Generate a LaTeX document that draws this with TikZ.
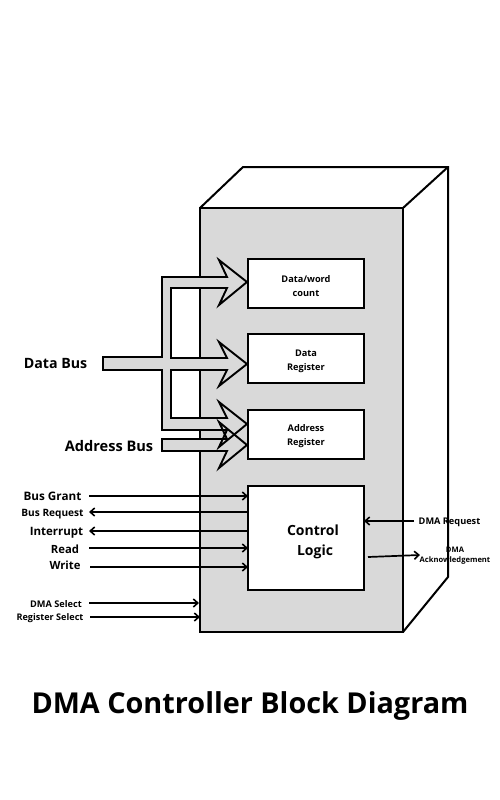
\documentclass[tikz,border=0pt]{standalone}
\usepackage{fontspec}
\setmainfont{Open Sans}
\usetikzlibrary{arrows.meta}
\definecolor{panel}{gray}{0.85}
\newcommand{\lowered}[2]{\raisebox{-#1pt}[0.8em][0.2em]{#2}}
\tikzset{
  x=1pt,y=-1pt,
  frame/.style={draw,line width=2pt,line join=miter},
  bus/.style={draw,line width=1.9pt,line join=miter,fill=panel},
  blockbox/.style={draw,line width=2pt,fill=white,anchor=north west,inner sep=0pt,outer sep=0pt,align=center,font=\bfseries\fontsize{9.2}{13.5}\selectfont},
  sig/.style={line width=1.7pt,-{Straight Barb[length=4.5pt,width=8pt,line width=1.6pt]}},
  lab/.style={inner sep=0pt,font=\bfseries\fontsize{10.1}{12}\selectfont},
  midlab/.style={inner sep=0pt,font=\bfseries\fontsize{11.3}{13}\selectfont},
  smalllab/.style={inner sep=0pt,font=\bfseries\fontsize{9.1}{11}\selectfont},
  biglab/.style={inner sep=0pt,font=\bfseries\fontsize{14.4}{16}\selectfont},
}
\begin{document}
\begin{tikzpicture}
\useasboundingbox (0,0) rectangle (500,800);
% cabinet
\draw[frame,fill=panel] (200,208) rectangle (403,632);
\draw[frame] (200,208) -- (243,167) -- (448,167) -- (448,577) -- (403,632);
\draw[frame] (403,208) -- (448,167);
% blocks
\node[blockbox,minimum width=116pt,minimum height=49pt] (count) at (248,259) {\lowered{3}{Data/word}\\\lowered{3}{count}};
\node[blockbox,minimum width=116pt,minimum height=49pt] (datareg) at (248,334) {\lowered{1.5}{Data}\\\lowered{2}{Register}};
\node[blockbox,minimum width=116pt,minimum height=49pt] (addrreg) at (248,410) {\lowered{1}{Address}\\\lowered{1}{Register}};
\node[blockbox,minimum width=116pt,minimum height=104pt] (ctrl) at (248,486) {};
\node[inner sep=0pt,align=center,font=\bfseries\fontsize{14}{20}\selectfont] (ctrltext) at (313,541.5) {Control\\\hspace*{4pt}Logic};
% buses
\fill[panel] (162,439) -- (227,439) -- (219,422) -- (247,445) -- (219,468) -- (227,451) -- (162,451) -- cycle;
\path[bus] (103,357) -- (162,357) -- (162,277) -- (227,277) -- (219,260) -- (247,282) -- (219,305) -- (227,288) -- (171,288) -- (171,358) -- (227,358) -- (219,342) -- (247,364) -- (219,386) -- (227,370) -- (171,370) -- (171,418) -- (227,418) -- (219,402) -- (247,424) -- (219,447) -- (227,430) -- (162,430) -- (162,370) -- (103,370) -- cycle;
\draw[bus,fill=none] (162,439) -- (227,439) -- (219,422) -- (247,445) -- (219,468) -- (227,451) -- (162,451) -- cycle;
% bus labels
\node[biglab,font=\bfseries\fontsize{14.2}{16}\selectfont] (databus) at (55.5,363) {Data Bus};
\node[biglab,font=\bfseries\fontsize{14.6}{16}\selectfont] (addrbus) at (109,446) {Address Bus};
% signal labels
\node[midlab,font=\bfseries\fontsize{11.7}{13}\selectfont] (grant) at (52.5,496) {Bus Grant};
\node[lab] (req) at (52.5,514) {Bus Request};
\node[midlab,font=\bfseries\fontsize{11.5}{13}\selectfont] (intr) at (56.5,532.5) {Interrupt};
\node[midlab] (read) at (65,549) {Read};
\node[midlab] (write) at (65,565) {Write};
\node[smalllab,font=\bfseries\fontsize{9.2}{11}\selectfont] (dmasel) at (56,604) {DMA Select};
\node[smalllab] (regsel) at (50,618) {Register Select};
\node[smalllab,font=\bfseries\fontsize{9.2}{11}\selectfont] (dmareq) at (449.5,522) {DMA Request};
\node[inner sep=0pt,align=center,font=\bfseries\fontsize{7.6}{10.3}\selectfont] (dmaack) at (455,555.5) {DMA\\Acknowledgement};
% signal ends
\coordinate (g) at (89,496);
\coordinate (r) at (89,512);
\coordinate (i) at (89,531);
\coordinate (rd) at (89,548);
\coordinate (w) at (90,567);
\coordinate (ds) at (89,603);
\coordinate (rs) at (90,617);
\coordinate (dr) at (414,521);
\coordinate (ak0) at (368,557);
\coordinate (ak1) at (420,555);
\draw[sig] (g) -- (ctrl.west |- g);
\draw[sig] (ctrl.west |- r) -- (r);
\draw[sig] (ctrl.west |- i) -- (i);
\draw[sig] (rd) -- (ctrl.west |- rd);
\draw[sig] (w) -- (ctrl.west |- w);
\draw[sig] (ds) -- (199,603);
\draw[sig] (rs) -- (200,617);
\draw[sig] (dr) -- (ctrl.east |- dr);
\draw[sig] (ak0) -- (ak1);
% title
\node[inner sep=0pt,font=\bfseries\fontsize{28.8}{36}\selectfont] (title) at (250,706) {DMA Controller Block Diagram};
\end{tikzpicture}
\end{document}
